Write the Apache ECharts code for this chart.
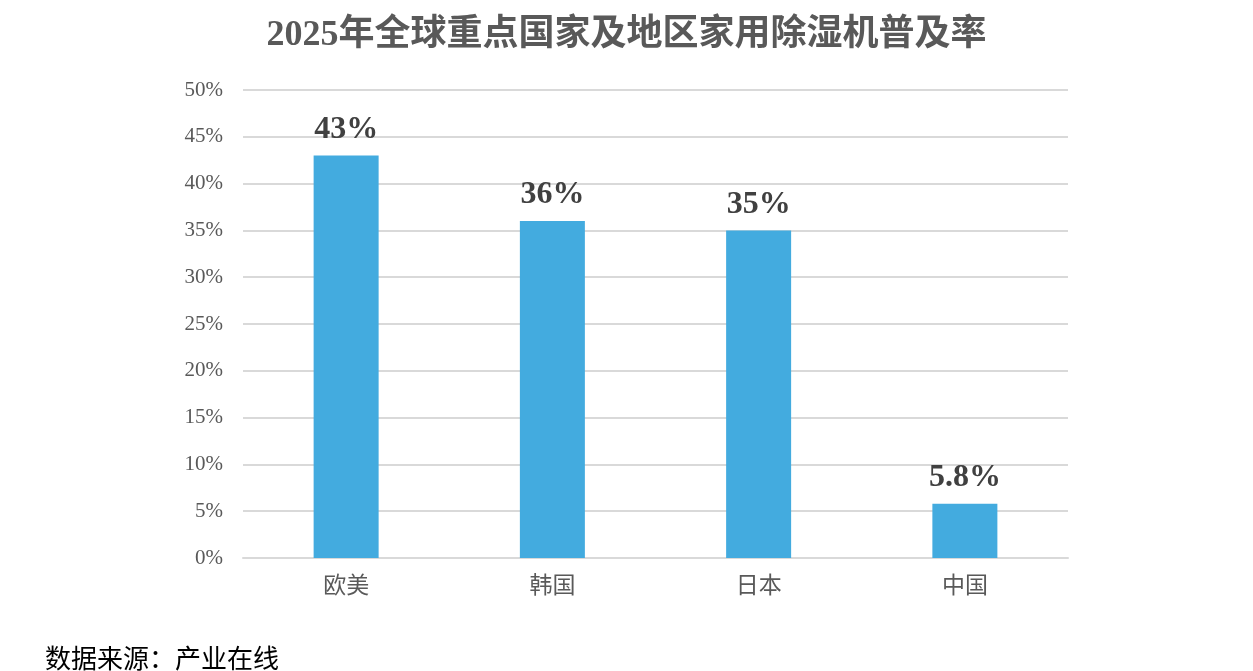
<!DOCTYPE html>
<html>
<head>
<meta charset="utf-8">
<script src="https://cdn.jsdelivr.net/npm/echarts@6/dist/echarts.min.js"></script>
<style>
  html, body { margin: 0; padding: 0; background: #fff; }
  #chart { width: 1253px; height: 671px; }
</style>
</head>
<body>
<div id="chart"></div>
<script>
// 地区与普及率
const categories = ['欧美', '韩国', '日本', '中国']
const rates = [43, 36, 35, 5.8]
const rateLabels = ['43%', '36%', '35%', '5.8%']

const serif = '"Liberation Serif", "DejaVu Serif", "Noto Sans CJK SC", serif'

const chart = echarts.init(document.getElementById('chart'))
chart.setOption({
  animation: false,
  title: [
    {
      text: '2025年全球重点国家及地区家用除湿机普及率',
      left: 'center',
      top: 13,
      textStyle: { fontFamily: serif, fontSize: 36, fontWeight: 'bold', color: '#595959' }
    },
    {
      text: '数据来源：产业在线',
      left: 40,
      top: 643,
      textStyle: { fontFamily: serif, fontSize: 26, fontWeight: 'normal', color: '#000' }
    }
  ],
  grid: { left: 243, right: 185, top: 90, bottom: 113 },
  xAxis: {
    type: 'category',
    data: categories,
    axisLine: { lineStyle: { color: '#d9d9d9', width: 2 } },
    axisTick: { show: false },
    axisLabel: { fontFamily: serif, fontSize: 23, color: '#595959', margin: 17 }
  },
  yAxis: {
    type: 'value',
    min: 0,
    max: 50,
    interval: 5,
    axisLine: { show: false },
    axisTick: { show: false },
    splitLine: { lineStyle: { color: '#d9d9d9', width: 2 } },
    axisLabel: { fontFamily: serif, fontSize: 21, color: '#595959', margin: 20, formatter: '{value}%' }
  },
  series: [
    {
      type: 'bar',
      data: rates,
      barWidth: 65,
      itemStyle: { color: '#43abdf' },
      label: {
        show: true,
        position: 'top',
        distance: 10,
        fontFamily: serif,
        fontSize: 32,
        fontWeight: 'bold',
        color: '#404040',
        formatter: p => rateLabels[p.dataIndex]
      }
    }
  ]
})
</script>
</body>
</html>
